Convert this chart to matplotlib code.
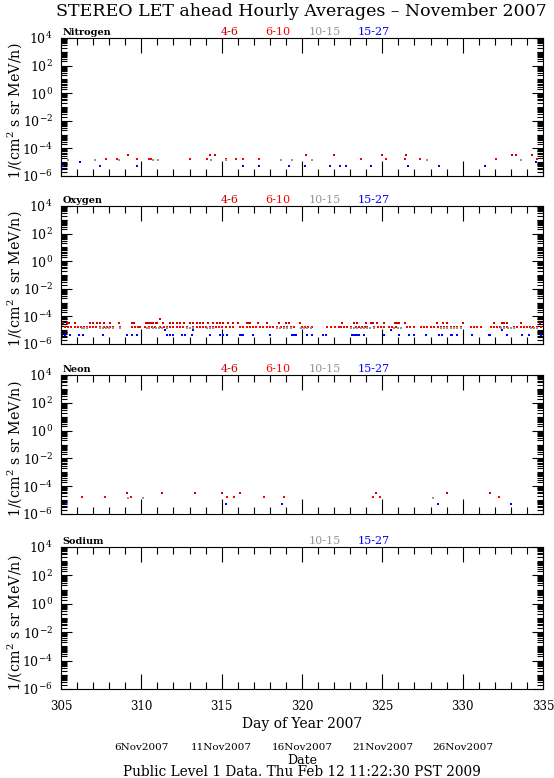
import numpy as np
import matplotlib
matplotlib.use("Agg")
import matplotlib.pyplot as plt
from matplotlib import transforms
from matplotlib.ticker import FixedLocator, MultipleLocator, NullFormatter, FuncFormatter

plt.rcParams['font.family'] = ['DejaVu Serif']
plt.rcParams['mathtext.fontset'] = 'dejavuserif'

title = "STEREO LET ahead Hourly Averages \u2013 November 2007"
elements = ["Nitrogen", "Oxygen", "Neon", "Sodium"]
energy_labels = ["4-6", "6-10", "10-15", "15-27"]
energy_colors = ["#c80000", "#ff0000", "#969696", "#0000ff"]
date_days = [310, 315, 320, 325, 330]
date_labels = ["6Nov2007", "11Nov2007", "16Nov2007", "21Nov2007", "26Nov2007"]

# ---------------- Nitrogen ----------------
n_46_day = [309.2, 314.3, 314.6, 320.27, 322.0, 325.0, 326.5, 333.05, 333.3, 334.33]
n_46_val = [3.3e-5] * len(n_46_day)
n_610_day = [307.8, 308.5, 309.7, 310.5, 310.6, 313.0, 314.07, 315.3, 315.9, 316.35,
             317.3, 323.65, 325.2, 326.39, 327.33, 332.06, 334.65]
n_610_val = [1.7e-5] * len(n_610_day)
n_1015_day = [305.45, 307.1, 308.6, 310.7, 311.05, 314.32, 315.25, 318.67, 319.4,
              320.64, 327.76, 333.6]
n_1015_val = [1.35e-5] * len(n_1015_day)
n_1527_day = [305.15, 306.2, 307.4, 309.7, 316.35, 317.35, 319.2, 320.17, 321.74,
              322.37, 322.76, 324.28, 326.6, 328.53, 331.37, 334.55]
n_1527_val = [5.5e-6, 1.07e-5, 5.5e-6, 5.5e-6, 5.5e-6, 5.5e-6, 5.5e-6, 5.5e-6, 5.5e-6,
              5.5e-6, 5.5e-6, 5.5e-6, 5.5e-6, 5.5e-6, 5.5e-6, 1.07e-5]

# ---------------- Oxygen ----------------
o_46_day = [305.05, 305.1, 305.35, 305.5, 305.87, 306.8, 307.01, 307.22, 307.43, 307.7,
            308.05, 308.61, 309.4, 309.56, 310.27, 310.39, 310.54, 310.64, 310.75,
            310.89, 310.99, 311.16, 311.37, 311.78, 311.99, 312.2, 312.41, 312.68,
            313.03, 313.24, 313.44, 313.65, 313.86, 314.17, 314.48, 314.69, 314.9,
            315.1, 315.41, 315.73, 316.04, 316.56, 316.66, 316.76, 317.28, 317.8,
            318.57, 318.98, 319.19, 319.87, 322.51, 323.24, 323.4, 323.96, 324.27,
            324.42, 324.69, 325.1, 325.77, 325.93, 326.04, 326.39, 328.42, 328.8,
            329.05, 330.04, 331.95, 332.43, 332.57, 332.78, 333.61, 334.79]
o_46_val = [3.3e-5] * len(o_46_day)
o_46_val[21] = 6.4e-5
o_610_day = [305.25, 305.45, 305.65, 305.85, 306.05, 306.25, 306.45, 306.6,
             306.8, 307.0, 307.2, 307.45, 307.65, 307.85, 308.05, 308.26, 308.67,
             309.4, 309.6, 309.8, 309.92, 310.23, 310.45, 310.65, 310.85,
             311.16, 311.4, 311.6, 311.8, 312.0, 312.2, 312.4, 312.6, 312.82,
             313.24, 313.45, 313.65, 313.85, 314.05, 314.25, 314.45, 314.65, 314.85,
             315.05, 315.3, 315.5, 315.73,
             316.14, 316.35, 316.55, 316.75, 316.95, 317.15, 317.4, 317.6, 317.8,
             318.0, 318.2, 318.42,
             318.67, 318.85, 319.05, 319.3, 319.5, 320.02, 320.2, 320.4, 320.64,
             321.58, 321.8, 322.05, 322.3, 322.41, 322.6, 322.8, 323.03,
             323.34, 323.55, 323.75, 323.9, 324.07, 324.48, 324.7, 324.9, 325.1,
             325.42, 325.6, 325.83, 326.56, 326.75, 326.97, 327.39, 327.6, 327.8, 328.01,
             328.22, 328.45, 328.65, 328.85, 329.05, 329.25, 329.45, 329.65, 329.88,
             330.5, 330.7, 330.9, 331.12, 331.74, 331.95, 332.15, 332.35, 332.55, 332.78,
             333.19, 333.4, 333.6, 333.8, 334.0, 334.2, 334.4, 334.6, 334.85]
o_610_val = [1.7e-5] * len(o_610_day)
o_1015_day = [306.29, 306.45, 306.6, 307.43, 307.6, 307.8, 308.0, 308.26, 308.67,
              310.33, 310.5, 310.7, 310.9, 311.1, 311.3, 311.58, 312.82, 313.05, 313.24,
              314.07, 314.3, 314.48, 318.46, 318.65, 318.85, 319.05, 319.29,
              319.92, 320.1, 320.3, 320.54, 323.03, 323.25, 323.45, 323.65, 323.85,
              324.05, 324.25, 324.48, 325.73, 325.95, 326.14, 328.63, 328.85, 329.05,
              329.25, 329.45, 329.65, 329.88, 332.37, 332.6, 332.8, 333.0, 333.19,
              334.23, 334.45, 334.65]
o_1015_val = [1.35e-5] * len(o_1015_day)
o_1527_day = [305.04, 305.25, 305.56, 306.12, 306.39, 307.64, 309.09, 309.4, 309.71,
              311.47, 311.58, 311.78, 311.99, 312.51, 312.72, 313.13, 313.2, 314.27,
              314.9, 315.1, 315.31, 316.14, 316.25, 316.35, 316.97, 318.01,
              319.4, 319.5, 319.61, 320.33, 320.64, 321.33, 321.47, 323.13, 323.24,
              323.34, 323.44, 323.55, 323.86, 325.1, 325.56, 326.04, 326.66, 326.97,
              327.7, 328.53, 328.69, 329.25, 329.36, 329.63, 330.6, 331.64, 331.7,
              332.47, 332.78, 333.71, 334.13, 334.85]
o_1527_val = [4.8e-6] * len(o_1527_day)
for _i in (9, 16, 40, 53):
    o_1527_val[_i] = 1.0e-5

# ---------------- Neon ----------------
ne_46_day = [309.08, 311.28, 313.32, 315.01, 316.16, 324.58, 329.02, 331.71]
ne_46_val = [3.5e-5] * len(ne_46_day)
ne_610_day = [306.31, 307.73, 309.38, 315.33, 315.76, 317.63, 318.91, 324.45, 324.85,
              332.28]
ne_610_val = [1.7e-5] * len(ne_610_day)
ne_1015_day = [309.17, 310.11, 328.15]
ne_1015_val = [1.35e-5] * len(ne_1015_day)
ne_1527_day = [305.32, 315.3, 318.73, 328.48, 333.03]
ne_1527_val = [5.3e-6] * len(ne_1527_day)

panel_data = [
    [(n_46_day, n_46_val), (n_610_day, n_610_val), (n_1015_day, n_1015_val), (n_1527_day, n_1527_val)],
    [(o_46_day, o_46_val), (o_610_day, o_610_val), (o_1015_day, o_1015_val), (o_1527_day, o_1527_val)],
    [(ne_46_day, ne_46_val), (ne_610_day, ne_610_val), (ne_1015_day, ne_1015_val), (ne_1527_day, ne_1527_val)],
    [],
]
panel_shown_labels = [[0, 1, 2, 3], [0, 1, 2, 3], [0, 1, 2, 3], [2, 3]]

W, H = 554, 778
fig = plt.figure(figsize=(W / 100, H / 100), dpi=100)

left_px, right_px = 61, 543
tops = [38, 206, 375, 547]
bots = [176, 344, 514, 689]
label_x = [230, 278, 325, 374]

minor_y = []
for d in range(-6, 4):
    for k in range(2, 10):
        minor_y.append(k * 10.0 ** d)
for d in (-5, -3, -1, 1, 3):
    minor_y.append(10.0 ** d)

axes = []
for i in range(4):
    ax = fig.add_axes([left_px / W, 1 - bots[i] / H, (right_px - left_px) / W,
                       (bots[i] - tops[i]) / H])
    axes.append(ax)
    ax.set_yscale('log')
    ax.set_ylim(1e-6, 1e4)
    ax.set_xlim(305, 335)
    for (dd, vv), col in zip(panel_data[i], energy_colors):
        ax.plot(dd, vv, ls='none', marker='s', ms=2.0, mew=0, color=col)
    ax.yaxis.set_major_locator(FixedLocator([1e-6, 1e-4, 1e-2, 1e0, 1e2, 1e4]))
    ax.yaxis.set_minor_locator(FixedLocator(minor_y))
    ax.yaxis.set_minor_formatter(NullFormatter())
    ax.yaxis.set_major_formatter(FuncFormatter(
        lambda v, p: r'$10^{%d}$' % int(round(np.log10(v)))))
    ax.xaxis.set_major_locator(MultipleLocator(5))
    ax.xaxis.set_minor_locator(MultipleLocator(1))
    ax.tick_params(which='both', direction='in', top=True, right=True, width=0.8,
                   color='black')
    ax.tick_params(axis='x', which='major', length=11)
    ax.tick_params(axis='x', which='minor', length=5)
    ax.tick_params(axis='y', which='major', length=8, labelsize=9, pad=6)
    ax.tick_params(axis='y', which='minor', length=4)
    for s in ax.spines.values():
        s.set_linewidth(0.8)
    if i < 3:
        ax.tick_params(axis='x', labelbottom=False)
    else:
        ax.tick_params(axis='x', labelsize=8.5, pad=8)
    ax.set_ylabel("1/(cm$^2$ s sr MeV/n)", fontsize=10.3)
    ax.yaxis.set_label_coords(-(left_px - 24) / (right_px - left_px), 0.47)
    ax.text(0.003, 1.008, elements[i], transform=ax.transAxes, fontsize=7,
            fontweight='bold', ha='left', va='bottom')
    for j in panel_shown_labels[i]:
        ax.text((label_x[j] - left_px) / (right_px - left_px), 1.008, energy_labels[j],
                transform=ax.transAxes, fontsize=8, color=energy_colors[j],
                ha='center', va='bottom')

ax4 = axes[3]
ax4.set_xlabel("Day of Year 2007", fontsize=10, labelpad=3)
bt = transforms.blended_transform_factory(ax4.transData, fig.transFigure)
for d, lab in zip(date_days, date_labels):
    ax4.text(d, 1 - 748 / H, lab, transform=bt, fontsize=7.5, ha='center', va='center')
fig.text(302 / W, 1 - 760 / H, "Date", fontsize=9, ha='center', va='center')
fig.text(302 / W, 1 - 772 / H, "Public Level 1 Data. Thu Feb 12 11:22:30 PST 2009",
         fontsize=9.8, ha='center', va='center')
fig.text(301 / W, 1 - 11 / H, title, fontsize=12.5, ha='center', va='center')

fig.savefig("out.png", dpi=100)
